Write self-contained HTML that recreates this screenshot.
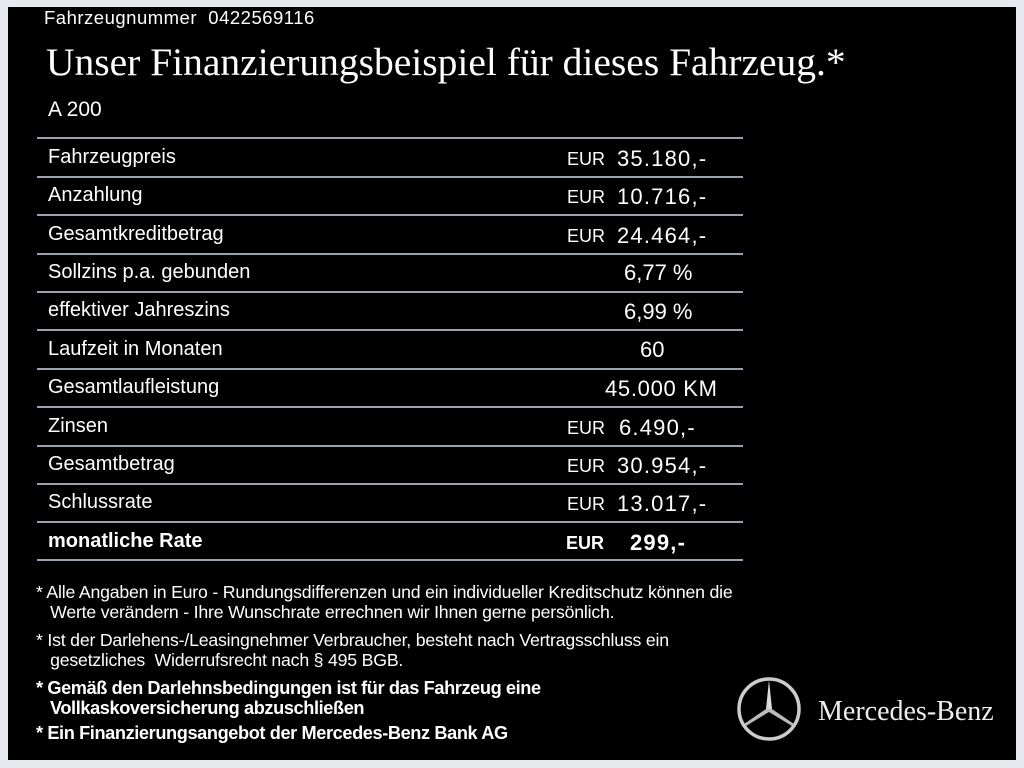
<!DOCTYPE html>
<html><head><meta charset="utf-8"><style>
body{margin:0;width:1024px;height:768px;background:#e6eaee;position:relative;overflow:hidden;font-family:"Liberation Sans",sans-serif;color:#fff}
#box{position:absolute;left:8px;top:7px;width:1008px;height:753px;background:#000}
.a{position:absolute;white-space:nowrap}
.l{position:absolute;left:37px;width:706px;height:2px;background:#9aa3ad}
.r{font-size:20px}
.e{font-size:18px}
.n{font-size:22px;letter-spacing:1.2px}
.f{font-size:17.7px;line-height:20px;letter-spacing:-0.2px}
.b{font-weight:bold;letter-spacing:0}
</style></head><body>
<div id="box"></div>
<div class="a" style="left:44px;top:7px;font-size:18.5px;letter-spacing:0.5px">Fahrzeugnummer&nbsp; 0422569116</div>
<div class="a" style="left:46px;top:39px;font-family:'Liberation Serif',serif;font-size:39.5px">Unser Finanzierungsbeispiel für dieses Fahrzeug.*</div>
<div class="a" style="left:48px;top:98px;font-size:21px">A 200</div>
<div class="l" style="top:137px"></div><div class="l" style="top:176px"></div><div class="l" style="top:214px"></div><div class="l" style="top:253px"></div><div class="l" style="top:291px"></div><div class="l" style="top:329px"></div><div class="l" style="top:368px"></div><div class="l" style="top:406px"></div><div class="l" style="top:445px"></div><div class="l" style="top:483px"></div><div class="l" style="top:521px"></div><div class="l" style="top:559px"></div>
<div class="a r" style="left:48px;top:146px">Fahrzeugpreis</div>
<div class="a r" style="left:48px;top:184px">Anzahlung</div>
<div class="a r" style="left:48px;top:223px">Gesamtkreditbetrag</div>
<div class="a r" style="left:48px;top:261px">Sollzins p.a. gebunden</div>
<div class="a r" style="left:48px;top:299px">effektiver Jahreszins</div>
<div class="a r" style="left:48px;top:338px">Laufzeit in Monaten</div>
<div class="a r" style="left:48px;top:376px">Gesamtlaufleistung</div>
<div class="a r" style="left:48px;top:415px">Zinsen</div>
<div class="a r" style="left:48px;top:453px">Gesamtbetrag</div>
<div class="a r" style="left:48px;top:491px">Schlussrate</div>
<div class="a r" style="left:48px;top:530px;font-weight:bold">monatliche Rate</div>
<div class="a e" style="left:567px;top:149px">EUR</div><div class="a n" style="left:617px;top:146px">35.180,-</div>
<div class="a e" style="left:567px;top:187px">EUR</div><div class="a n" style="left:617px;top:184px">10.716,-</div>
<div class="a e" style="left:567px;top:226px">EUR</div><div class="a n" style="left:617px;top:223px">24.464,-</div>
<div class="a n" style="left:624px;top:260px;letter-spacing:0">6,77 %</div>
<div class="a n" style="left:624px;top:299px;letter-spacing:0">6,99 %</div>
<div class="a n" style="left:640px;top:337px;letter-spacing:0">60</div>
<div class="a n" style="left:605px;top:376px;letter-spacing:0.7px">45.000 KM</div>
<div class="a e" style="left:567px;top:418px">EUR</div><div class="a n" style="left:619px;top:415px">6.490,-</div>
<div class="a e" style="left:567px;top:456px">EUR</div><div class="a n" style="left:617px;top:453px">30.954,-</div>
<div class="a e" style="left:567px;top:494px">EUR</div><div class="a n" style="left:617px;top:491px">13.017,-</div>
<div class="a e" style="left:566px;top:533px;font-weight:bold">EUR</div><div class="a n" style="left:630px;top:530px;font-weight:bold">299,-</div>
<div class="a f" style="left:36px;top:582px">* Alle Angaben in Euro - Rundungsdifferenzen und ein individueller Kreditschutz können die<br>&nbsp;&nbsp; Werte verändern - Ihre Wunschrate errechnen wir Ihnen gerne persönlich.</div>
<div class="a f" style="left:36px;top:630px">* Ist der Darlehens-/Leasingnehmer Verbraucher, besteht nach Vertragsschluss ein<br>&nbsp;&nbsp; gesetzliches&nbsp; Widerrufsrecht nach § 495 BGB.</div>
<div class="a f b" style="left:36px;top:678px;font-size:18.2px;letter-spacing:-0.4px">* Gemäß den Darlehnsbedingungen ist für das Fahrzeug eine<br>&nbsp;&nbsp; Vollkaskoversicherung abzuschließen</div>
<div class="a f b" style="left:36px;top:723px;font-size:18.2px;letter-spacing:-0.4px">* Ein Finanzierungsangebot der Mercedes-Benz Bank AG</div>
<svg class="a" style="left:736px;top:676px" width="66" height="66" viewBox="0 0 66 66">
<circle cx="33" cy="33" r="30" fill="none" stroke="#ccc" stroke-width="3.5"/>
<polygon points="33,4 36,33 33,35 30,33" fill="#ddd"/>
<polygon points="33,33 36,33 58,48 56,50 33,36" fill="#bbb"/>
<polygon points="33,33 30,33 8,48 10,50 33,36" fill="#bbb"/>
</svg>
<div class="a" style="left:818px;top:696px;font-family:'Liberation Serif',serif;font-size:28px;color:#eee">Mercedes-Benz</div>
</body></html>
